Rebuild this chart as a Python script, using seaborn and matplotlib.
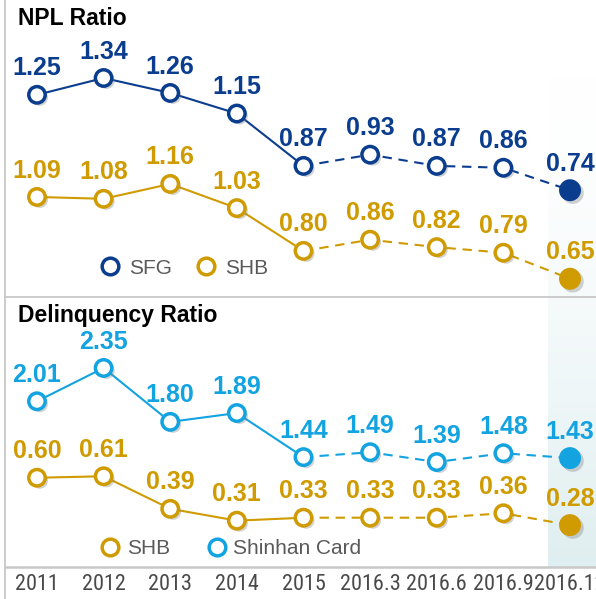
import numpy as np
import pandas as pd
import matplotlib
matplotlib.use("Agg")
import matplotlib.pyplot as plt
import matplotlib.patheffects as pe
from matplotlib import font_manager as fm
from matplotlib.lines import Line2D
import seaborn as sns

# ---------------- data ----------------
periods = ["2011", "2012", "2013", "2014", "2015", "2016.3", "2016.6", "2016.9", "2016.12"]
npl_sfg = [1.25, 1.34, 1.26, 1.15, 0.87, 0.93, 0.87, 0.86, 0.74]
npl_shb = [1.09, 1.08, 1.16, 1.03, 0.80, 0.86, 0.82, 0.79, 0.65]
dlq_card = [2.01, 2.35, 1.80, 1.89, 1.44, 1.49, 1.39, 1.48, 1.43]
dlq_shb = [0.60, 0.61, 0.39, 0.31, 0.33, 0.33, 0.33, 0.36, 0.28]

C_SFG = "#0b3d8e"
C_SHB = "#cf9b00"
C_CARD = "#12a3e0"
GRID = "#c8c8c8"

sns.set_theme(style="white")
plt.rcParams["font.family"] = ["Liberation Sans", "DejaVu Sans"]

# find a condensed / narrow face for the period labels, if one is installed
tick_fp = None
prefs = []
for f in fm.fontManager.ttflist:
    nm = f.name.lower()
    narrow = ("narrow" in nm or "condensed" in nm or
              str(f.stretch).lower() in ("condensed", "semi-condensed", "extra-condensed"))
    if not narrow or f.style != "normal":
        continue
    w = f.weight if isinstance(f.weight, int) else (700 if "bold" in str(f.weight) else 400)
    if w > 500:
        continue
    rank = 0 if "liberation" in nm else (1 if "roboto" in nm else (2 if "open" in nm else 3))
    prefs.append((rank, f.fname))
if prefs:
    prefs.sort()
    tick_fp = fm.FontProperties(fname=prefs[0][1], size=16)
else:
    tick_fp = fm.FontProperties(family=["Liberation Sans"], size=12.5)

W, H = 596, 599
fig = plt.figure(figsize=(W / 100, H / 100), dpi=100)


def fx(px):
    return px / W


def fy(py):
    return 1 - py / H


# background gradient column (last period highlight)
bg = fig.add_axes([fx(548), fy(567), fx(596) - fx(548), fy(60) - fy(567)], zorder=0)
n = 256
alpha = np.linspace(0, 1, n) ** 1.6
grad = np.zeros((n, 1, 4))
grad[:, 0, :3] = np.array([0.875, 0.935, 0.945])
grad[:, 0, 3] = alpha
bg.imshow(grad, aspect="auto", extent=(0, 1, 0, 1), origin="upper")
bg.set_axis_off()

ax_top = fig.add_axes([fx(5), fy(297), 1 - fx(5), fy(0) - fy(297)], zorder=1)
ax_bot = fig.add_axes([fx(5), fy(567), 1 - fx(5), fy(297) - fy(567)], zorder=1)
ax_top2 = ax_top.twinx()
ax_bot2 = ax_bot.twinx()
ax_top2.set_zorder(2)
ax_bot2.set_zorder(2)

XLIM = (-0.48, 8.39)
x = list(range(len(periods)))


def draw_series(ax, values, color, ylim):
    df = pd.DataFrame({"x": x, "v": values})
    sns.lineplot(data=df.iloc[:5], x="x", y="v", ax=ax, color=color, lw=1.5)
    sns.lineplot(data=df.iloc[4:], x="x", y="v", ax=ax, color=color, lw=1.5,
                 linestyle=(0, (4.5, 3.2)))
    shadow = [pe.SimplePatchShadow(offset=(2, -2), shadow_rgbFace="#808080", alpha=0.35), pe.Normal()]
    sns.scatterplot(data=df.iloc[:8], x="x", y="v", ax=ax, s=140, facecolor="white",
                    edgecolor=color, linewidth=2.5, zorder=3, path_effects=shadow, legend=False)
    sns.scatterplot(data=df.iloc[8:], x="x", y="v", ax=ax, s=250, color=color,
                    linewidth=0, zorder=3, path_effects=shadow, legend=False)
    for xi, v in zip(x, values):
        ax.annotate(f"{v:.2f}", (xi, v), xytext=(0, 14), textcoords="offset points",
                    ha="center", va="baseline", fontsize=18, fontweight="bold",
                    color=color, zorder=5, annotation_clip=False)
    ax.set_xlim(*XLIM)
    ax.set_ylim(*ylim)
    ax.set_xlabel("")
    ax.set_ylabel("")
    ax.set_yticks([])


draw_series(ax_top, npl_sfg, C_SFG, (0.169, 1.757))
draw_series(ax_top2, npl_shb, C_SHB, (0.552, 2.149))
draw_series(ax_bot, dlq_card, C_CARD, (0.319, 3.074))
draw_series(ax_bot2, dlq_shb, C_SHB, (-0.003, 1.821))

for a in (ax_top, ax_bot, ax_top2, ax_bot2):
    a.set_facecolor("none")
    for s in a.spines.values():
        s.set_visible(False)

ax_top.set_xticks([])
ax_top2.set_xticks([])
ax_bot2.set_xticks([])
ax_top.spines["bottom"].set_visible(True)
ax_top.spines["bottom"].set_color(GRID)
ax_top.spines["bottom"].set_linewidth(1.3)
ax_bot.spines["bottom"].set_visible(True)
ax_bot.spines["bottom"].set_color(GRID)
ax_bot.spines["bottom"].set_linewidth(1.8)

ax_bot.set_xticks(x)
ax_bot.set_xticklabels(periods, fontproperties=tick_fp, color="#4a4a4a")
ax_bot.tick_params(axis="x", length=0, pad=5)

# left frame line
fig.add_artist(Line2D([fx(5), fx(5)], [0, 1], transform=fig.transFigure, color=GRID, lw=1.3, zorder=3))

# titles
fig.text(fx(18), fy(25), "NPL Ratio", fontsize=16.5, fontweight="bold", color="black",
         ha="left", va="baseline")
fig.text(fx(18), fy(322), "Delinquency Ratio", fontsize=16.5, fontweight="bold", color="black",
         ha="left", va="baseline")


def handle(color):
    return Line2D([], [], marker="o", ls="", mfc="white", mec=color, mew=2.5, ms=12)


leg1 = fig.legend([handle(C_SFG), handle(C_SHB)], ["SFG", "SHB"], ncol=2, frameon=False,
                  loc="center left", bbox_to_anchor=(fx(99.6), fy(268)), fontsize=15,
                  labelcolor="#595959", handlelength=1.0, handletextpad=0.4,
                  columnspacing=1.15, borderpad=0, borderaxespad=0)
leg2 = fig.legend([handle(C_SHB), handle(C_CARD)], ["SHB", "Shinhan Card"], ncol=2, frameon=False,
                  loc="center left", bbox_to_anchor=(fx(99.6), fy(549)), fontsize=15,
                  labelcolor="#595959", handlelength=1.0, handletextpad=0.3,
                  columnspacing=1.75, borderpad=0, borderaxespad=0)

fig.savefig("out.png", dpi=100)
